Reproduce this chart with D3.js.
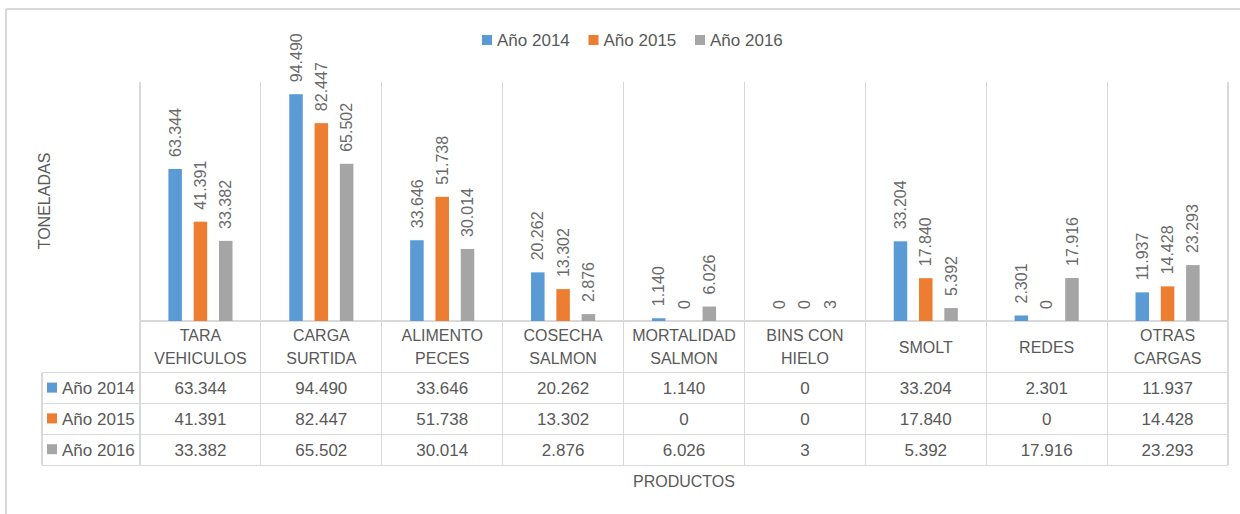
<!DOCTYPE html>
<html>
<head>
<meta charset="utf-8">
<script src="https://cdn.jsdelivr.net/npm/d3@7"></script>
<style>
    body { margin: 0; background: #fff; }
    svg { display: block; font-family: "Liberation Sans", Arial, sans-serif; }
    text { fill: #595959; }
    .grid { stroke: #d9d9d9; stroke-width: 1.2; shape-rendering: crispEdges; }
</style>
</head>
<body>
<div id="chart"></div>
<script>
// chart values (toneladas)
var categories = ["TARA VEHICULOS", "CARGA SURTIDA", "ALIMENTO PECES", "COSECHA SALMON",
    "MORTALIDAD SALMON", "BINS CON HIELO", "SMOLT", "REDES", "OTRAS CARGAS"];
var categoryLines = [["TARA", "VEHICULOS"], ["CARGA", "SURTIDA"], ["ALIMENTO", "PECES"],
    ["COSECHA", "SALMON"], ["MORTALIDAD", "SALMON"], ["BINS CON", "HIELO"],
    ["SMOLT"], ["REDES"], ["OTRAS", "CARGAS"]];
var seriesNames = ["Año 2014", "Año 2015", "Año 2016"];
var seriesColors = ["#5b9bd5", "#ed7d31", "#a5a5a5"];
var values2014 = [63344, 94490, 33646, 20262, 1140, 0, 33204, 2301, 11937];
var values2015 = [41391, 82447, 51738, 13302, 0, 0, 17840, 0, 14428];
var values2016 = [33382, 65502, 30014, 2876, 6026, 3, 5392, 17916, 23293];
var yMax = 100000;

var seriesValues = [values2014, values2015, values2016];

var width = 1240, height = 514;
var plotLeft = 140, plotRight = 1228, plotTop = 81, baseY = 321;
var headerBottom = 372.7, rowH = 30.8, tableLeft = 42;

var fmt = d3.formatLocale({ decimal: ",", thousands: ".", grouping: [3], currency: ["$", ""] }).format(",d");

var svg = d3.select("#chart").append("svg")
    .attr("width", width)
    .attr("height", height);

// outer frame (only top and left visible)
svg.append("line").attr("class", "grid")
    .attr("x1", 6).attr("x2", width).attr("y1", 9).attr("y2", 9);
svg.append("line").attr("class", "grid")
    .attr("x1", 6).attr("x2", 6).attr("y1", 9).attr("y2", height);

var x0 = d3.scaleBand().domain(categories).range([plotLeft, plotRight]);
var bw = x0.bandwidth();
var x1 = d3.scaleBand().domain(seriesNames)
    .range([bw / 2 - 37.95, bw / 2 + 37.95])
    .paddingInner(0.466).paddingOuter(0.233);
var y = d3.scaleLinear().domain([0, yMax]).range([baseY, plotTop]);

var tableBottom = headerBottom + rowH * seriesNames.length;

// vertical grid / table column lines
var bounds = categories.map(function (c) { return x0(c); }).concat([plotRight]);
svg.selectAll(".vline").data(bounds).enter().append("line")
    .attr("class", "grid")
    .attr("x1", function (d) { return d; }).attr("x2", function (d) { return d; })
    .attr("y1", plotTop + 1).attr("y2", tableBottom);

// horizontal table lines
svg.append("line").attr("class", "grid")
    .attr("x1", plotLeft).attr("x2", plotRight).attr("y1", baseY).attr("y2", baseY);
svg.selectAll(".hline").data(d3.range(seriesNames.length + 1)).enter().append("line")
    .attr("class", "grid")
    .attr("x1", tableLeft).attr("x2", plotRight)
    .attr("y1", function (i) { return headerBottom + i * rowH; })
    .attr("y2", function (i) { return headerBottom + i * rowH; });
svg.append("line").attr("class", "grid")
    .attr("x1", tableLeft).attr("x2", tableLeft).attr("y1", headerBottom).attr("y2", tableBottom);

// bars
var bars = [];
seriesNames.forEach(function (s, si) {
    categories.forEach(function (c, ci) {
        bars.push({ cat: c, series: s, si: si, value: seriesValues[si][ci] });
    });
});

svg.selectAll(".bar").data(bars).enter().append("rect")
    .attr("class", "bar")
    .attr("x", function (d) { return x0(d.cat) + x1(d.series); })
    .attr("width", x1.bandwidth())
    .attr("y", function (d) { return y(d.value); })
    .attr("height", function (d) { return baseY - y(d.value); })
    .style("fill", function (d) { return seriesColors[d.si]; });

// data labels
svg.selectAll(".lbl").data(bars).enter().append("text")
    .attr("class", "lbl")
    .attr("transform", function (d) {
        var cx = x0(d.cat) + x1(d.series) + x1.bandwidth() / 2;
        return "translate(" + cx + "," + (y(d.value) - 12) + ") rotate(-90)";
    })
    .attr("dy", "0.35em")
    .style("font-size", "16px")
    .style("fill", "#6a6a6a")
    .text(function (d) { return fmt(d.value); });

// table header: category names
var hdr = svg.selectAll(".cat").data(categories).enter().append("text")
    .attr("class", "cat")
    .attr("text-anchor", "middle")
    .style("font-size", "16px");
hdr.each(function (c, ci) {
    var lines = categoryLines[ci];
    var cx = x0(c) + bw / 2;
    var mid = (baseY + headerBottom) / 2;
    d3.select(this).selectAll("tspan").data(lines).enter().append("tspan")
        .attr("x", cx)
        .attr("y", function (l, i) { return mid + (i - (lines.length - 1) / 2) * 23; })
        .attr("dy", "0.36em")
        .text(function (l) { return l; });
});

// table rows
seriesNames.forEach(function (s, si) {
    var rowMid = headerBottom + rowH * si + rowH / 2;
    svg.append("rect")
        .attr("x", 47).attr("y", rowMid - 5.5)
        .attr("width", 10).attr("height", 10)
        .style("fill", seriesColors[si]);
    svg.append("text")
        .attr("x", 62).attr("y", rowMid).attr("dy", "0.36em")
        .style("font-size", "17px")
        .text(s);
    svg.selectAll(".val" + si).data(seriesValues[si]).enter().append("text")
        .attr("class", "val" + si)
        .attr("x", function (v, ci) { return x0(categories[ci]) + bw / 2; })
        .attr("y", rowMid).attr("dy", "0.36em")
        .attr("text-anchor", "middle")
        .style("font-size", "17px")
        .text(function (v) { return fmt(v); });
});

// legend
var legend = svg.selectAll(".leg").data(seriesNames).enter().append("g")
    .attr("class", "leg")
    .attr("transform", function (d, i) { return "translate(" + (482 + i * 106.5) + ",40)"; });
legend.append("rect")
    .attr("x", 0).attr("y", -5).attr("width", 10).attr("height", 10)
    .style("fill", function (d, i) { return seriesColors[i]; });
legend.append("text")
    .attr("x", 15).attr("dy", "0.36em")
    .style("font-size", "17px")
    .text(function (d) { return d; });

// axis titles
svg.append("text")
    .attr("transform", "translate(44," + ((plotTop + baseY) / 2) + ") rotate(-90)")
    .attr("text-anchor", "middle").attr("dy", "0.36em")
    .style("font-size", "16px")
    .text("TONELADAS");
svg.append("text")
    .attr("x", (plotLeft + plotRight) / 2).attr("y", 481).attr("dy", "0.36em")
    .attr("text-anchor", "middle")
    .style("font-size", "16px")
    .text("PRODUCTOS");
</script>
</body>
</html>
